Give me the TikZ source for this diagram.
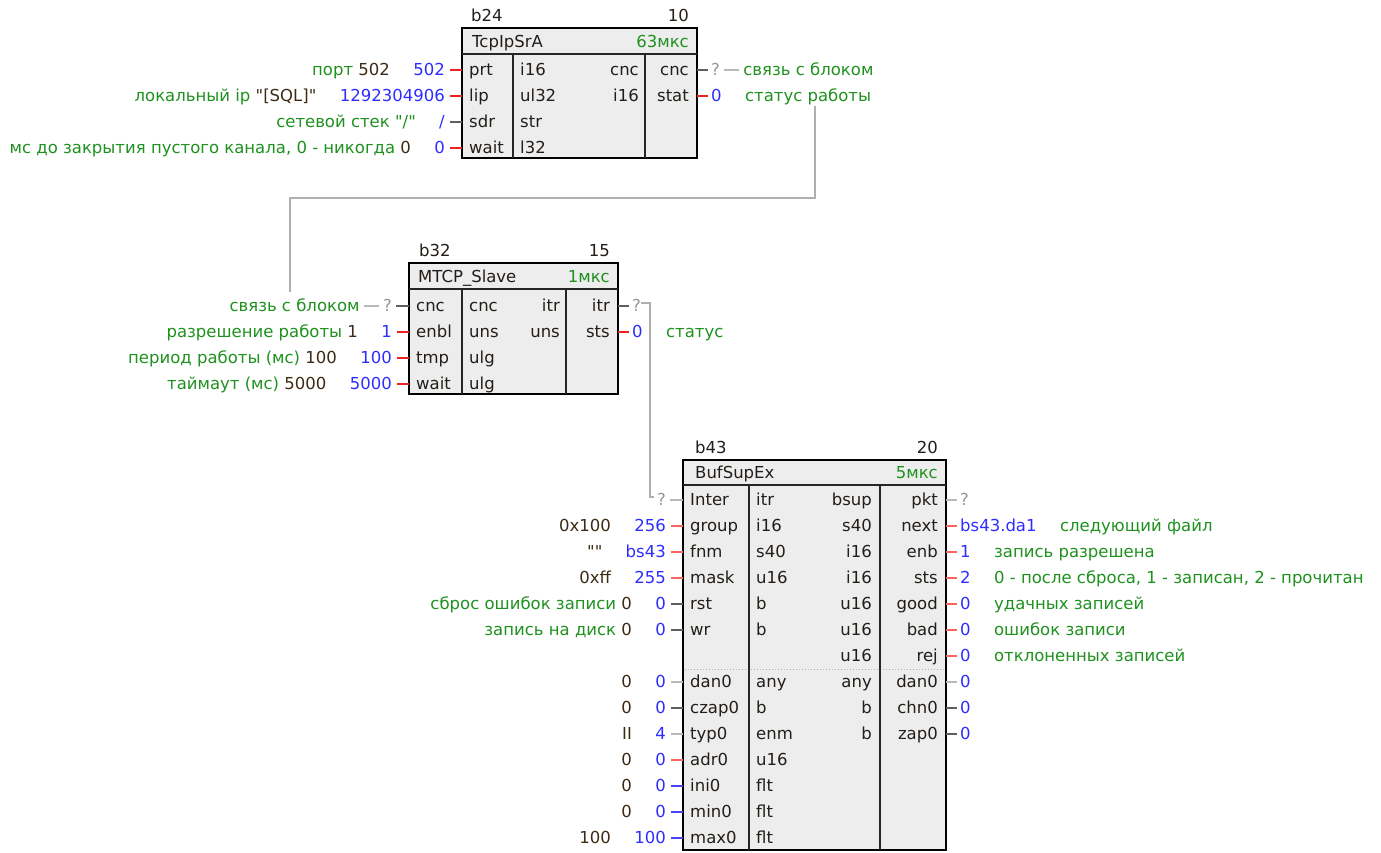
\documentclass[tikz,border=0pt]{standalone}
\usepackage{fontspec}
\setmainfont{DejaVu Sans}[Ligatures=TeXOff]
\usetikzlibrary{positioning}

\definecolor{blkfill}{RGB}{237,237,237}
\definecolor{cmtgreen}{RGB}{30,145,30}
\definecolor{valblue}{RGB}{45,45,255}
\definecolor{dfltdark}{RGB}{60,42,20}
\definecolor{pintext}{RGB}{35,30,25}
\definecolor{qgray}{RGB}{150,150,150}
\definecolor{linkgray}{RGB}{175,175,175}
\definecolor{stubred}{RGB}{235,35,35}
\definecolor{stubpink}{RGB}{250,100,100}
\definecolor{stubdark}{RGB}{95,95,95}
\definecolor{stublight}{RGB}{185,185,185}
\definecolor{stubblue}{RGB}{70,70,240}

\tikzset{
  txt/.style={inner sep=0pt, text height=13pt, text depth=3pt},
  pin/.style={txt, text=pintext},
  val/.style={txt, text=valblue},
  cmt/.style={txt, text=cmtgreen},
  dflt/.style={txt, text=dfltdark},
  qm/.style={txt, text=qgray},
  blk/.style={draw=black, fill=blkfill, line width=2.6pt},
  divline/.style={draw=black!85, line width=1.6pt},
  stub/.style={line width=1.6pt},
  link/.style={draw=linkgray, line width=1.6pt},
}

\begin{document}
\begin{tikzpicture}[x=1pt, y=-1pt, font=\fontsize{16.5}{19}\selectfont, node distance=24pt]
    \useasboundingbox (0,0) rectangle (1381,852);

    % block b24
    \draw[blk] (462,28) rectangle (697,158);
    \draw[divline] (462,54) -- (697,54) (513,54) -- (513,158) (645,54) -- (645,158);
    \node[pin, anchor=west] (b24id) at (471,16) {b24};
    \node[pin, anchor=east] (b24no) at (689,16) {10};
    \node[pin, anchor=west] (b24name) at (472,42) {TcpIpSrA};
    \node[cmt, anchor=east] (b24time) at (689,42) {63мкс};
    \node[pin, anchor=west] (b24prt) at (469,70) {prt};
    \node[pin, anchor=west] (b24lip) at (469,96) {lip};
    \node[pin, anchor=west] (b24sdr) at (469,122) {sdr};
    \node[pin, anchor=west] (b24wait) at (469,148) {wait};
    \node[pin, anchor=west] (b24t1) at (520,70) {i16};
    \node[pin, anchor=west] (b24t2) at (520,96) {ul32};
    \node[pin, anchor=west] (b24t3) at (520,122) {str};
    \node[pin, anchor=west] (b24t4) at (520,148) {l32};
    \node[pin, anchor=east] (b24o1) at (639,70) {cnc};
    \node[pin, anchor=east] (b24o2) at (639,96) {i16};
    \node[pin, anchor=east] (b24cnc) at (689,70) {cnc};
    \node[pin, anchor=east] (b24stat) at (689,96) {stat};

    \node[val, left=of b24prt] (b24prtv) {502};
    \node[cmt, left=23pt of b24prtv] (b24prtc) {порт \textcolor{dfltdark}{502}};
    \node[val, left=of b24lip] (b24lipv) {1292304906};
    \node[cmt, left=23pt of b24lipv] (b24lipc) {локальный ip \textcolor{dfltdark}{"[SQL]"}};
    \node[val, left=of b24sdr] (b24sdrv) {/};
    \node[cmt, left=23pt of b24sdrv] (b24sdrc) {сетевой стек "/"};
    \node[val, left=of b24wait] (b24waitv) {0};
    \node[cmt, left=23pt of b24waitv] (b24waitc) {мс до закрытия пустого канала, 0 - никогда \textcolor{dfltdark}{0}};
    \draw[stub, stubred] ([xshift=5pt]b24prtv.east) -- ([xshift=-7pt]b24prt.west);
    \draw[stub, stubred] ([xshift=5pt]b24lipv.east) -- ([xshift=-7pt]b24lip.west);
    \draw[stub, stubdark] ([xshift=5pt]b24sdrv.east) -- ([xshift=-7pt]b24sdr.west);
    \draw[stub, stubred] ([xshift=5pt]b24waitv.east) -- ([xshift=-7pt]b24wait.west);

    \node[qm, right=22pt of b24cnc] (b24cncv) {?};
    \node[cmt, right=23pt of b24cncv] (b24cncc) {связь с блоком};
    \node[val, right=22pt of b24stat] (b24statv) {0};
    \node[cmt, right=23pt of b24statv] (b24statc) {статус работы};
    \draw[stub, stubdark] ([xshift=8pt]b24cnc.east) -- ([xshift=-3pt]b24cncv.west);
    \draw[stub, stublight] ([xshift=4pt]b24cncv.east) -- ([xshift=-4pt]b24cncc.west);
    \draw[stub, stubred] ([xshift=8pt]b24stat.east) -- ([xshift=-3pt]b24statv.west);

    % block b32
    \draw[blk] (409,263) rectangle (618,394);
    \draw[divline] (409,289) -- (618,289) (462,289) -- (462,394) (566,289) -- (566,394);
    \node[pin, anchor=west] (b32id) at (419,251) {b32};
    \node[pin, anchor=east] (b32no) at (610,251) {15};
    \node[pin, anchor=west] (b32name) at (418,277) {MTCP\_Slave};
    \node[cmt, anchor=east] (b32time) at (610,277) {1мкс};
    \node[pin, anchor=west] (b32cnc) at (416,306) {cnc};
    \node[pin, anchor=west] (b32enbl) at (416,332) {enbl};
    \node[pin, anchor=west] (b32tmp) at (416,358) {tmp};
    \node[pin, anchor=west] (b32wait) at (416,384) {wait};
    \node[pin, anchor=west] (b32t1) at (469,306) {cnc};
    \node[pin, anchor=west] (b32t2) at (469,332) {uns};
    \node[pin, anchor=west] (b32t3) at (469,358) {ulg};
    \node[pin, anchor=west] (b32t4) at (469,384) {ulg};
    \node[pin, anchor=east] (b32o1) at (560,306) {itr};
    \node[pin, anchor=east] (b32o2) at (560,332) {uns};
    \node[pin, anchor=east] (b32itr) at (610,306) {itr};
    \node[pin, anchor=east] (b32sts) at (610,332) {sts};

    \node[qm, left=of b32cnc] (b32cncv) {?};
    \node[cmt, left=23pt of b32cncv] (b32cncc) {связь с блоком};
    \node[val, left=of b32enbl] (b32enblv) {1};
    \node[cmt, left=23pt of b32enblv] (b32enblc) {разрешение работы \textcolor{dfltdark}{1}};
    \node[val, left=of b32tmp] (b32tmpv) {100};
    \node[cmt, left=23pt of b32tmpv] (b32tmpc) {период работы (мс) \textcolor{dfltdark}{100}};
    \node[val, left=of b32wait] (b32waitv) {5000};
    \node[cmt, left=23pt of b32waitv] (b32waitc) {таймаут (мс) \textcolor{dfltdark}{5000}};
    \draw[stub, stubdark] ([xshift=4pt]b32cncv.east) -- ([xshift=-7pt]b32cnc.west);
    \draw[stub, stublight] ([xshift=4pt]b32cncc.east) -- ([xshift=-4pt]b32cncv.west);
    \draw[stub, stubred] ([xshift=5pt]b32enblv.east) -- ([xshift=-7pt]b32enbl.west);
    \draw[stub, stubred] ([xshift=5pt]b32tmpv.east) -- ([xshift=-7pt]b32tmp.west);
    \draw[stub, stubred] ([xshift=5pt]b32waitv.east) -- ([xshift=-7pt]b32wait.west);

    \node[qm, right=22pt of b32itr] (b32itrv) {?};
    \node[val, right=22pt of b32sts] (b32stsv) {0};
    \node[cmt, right=23pt of b32stsv] (b32stsc) {статус};
    \draw[stub, stubdark] ([xshift=8pt]b32itr.east) -- ([xshift=-3pt]b32itrv.west);
    \draw[stub, stubred] ([xshift=8pt]b32sts.east) -- ([xshift=-3pt]b32stsv.west);

    % block b43
    \draw[blk] (683,460) rectangle (946,850);
    \draw[dotted, linkgray, line width=1pt] (685,669) -- (944,669);
    \draw[divline] (683,485) -- (946,485) (749,485) -- (749,850) (880,485) -- (880,850);
    \node[pin, anchor=west] (b43id) at (695,448) {b43};
    \node[pin, anchor=east] (b43no) at (938,448) {20};
    \node[pin, anchor=west] (b43name) at (695,473) {BufSupEx};
    \node[cmt, anchor=east] (b43time) at (938,473) {5мкс};
    \node[pin, anchor=west] (b43inter) at (690,500) {Inter};
    \node[pin, anchor=west] (b43group) at (690,526) {group};
    \node[pin, anchor=west] (b43fnm) at (690,552) {fnm};
    \node[pin, anchor=west] (b43mask) at (690,578) {mask};
    \node[pin, anchor=west] (b43rst) at (690,604) {rst};
    \node[pin, anchor=west] (b43wr) at (690,630) {wr};
    \node[pin, anchor=west] (b43dan) at (690,682) {dan0};
    \node[pin, anchor=west] (b43czap) at (690,708) {czap0};
    \node[pin, anchor=west] (b43typ) at (690,734) {typ0};
    \node[pin, anchor=west] (b43adr) at (690,760) {adr0};
    \node[pin, anchor=west] (b43ini) at (690,786) {ini0};
    \node[pin, anchor=west] (b43min) at (690,812) {min0};
    \node[pin, anchor=west] (b43max) at (690,838) {max0};
    \node[pin, anchor=west] (b43t1) at (756,500) {itr};
    \node[pin, anchor=west] (b43t2) at (756,526) {i16};
    \node[pin, anchor=west] (b43t3) at (756,552) {s40};
    \node[pin, anchor=west] (b43t4) at (756,578) {u16};
    \node[pin, anchor=west] (b43t5) at (756,604) {b};
    \node[pin, anchor=west] (b43t6) at (756,630) {b};
    \node[pin, anchor=west] (b43t8) at (756,682) {any};
    \node[pin, anchor=west] (b43t9) at (756,708) {b};
    \node[pin, anchor=west] (b43t10) at (756,734) {enm};
    \node[pin, anchor=west] (b43t11) at (756,760) {u16};
    \node[pin, anchor=west] (b43t12) at (756,786) {flt};
    \node[pin, anchor=west] (b43t13) at (756,812) {flt};
    \node[pin, anchor=west] (b43t14) at (756,838) {flt};
    \node[pin, anchor=east] (b43o1) at (872,500) {bsup};
    \node[pin, anchor=east] (b43o2) at (872,526) {s40};
    \node[pin, anchor=east] (b43o3) at (872,552) {i16};
    \node[pin, anchor=east] (b43o4) at (872,578) {i16};
    \node[pin, anchor=east] (b43o5) at (872,604) {u16};
    \node[pin, anchor=east] (b43o6) at (872,630) {u16};
    \node[pin, anchor=east] (b43o7) at (872,656) {u16};
    \node[pin, anchor=east] (b43o8) at (872,682) {any};
    \node[pin, anchor=east] (b43o9) at (872,708) {b};
    \node[pin, anchor=east] (b43o10) at (872,734) {b};
    \node[pin, anchor=east] (b43pkt) at (938,500) {pkt};
    \node[pin, anchor=east] (b43next) at (938,526) {next};
    \node[pin, anchor=east] (b43enb) at (938,552) {enb};
    \node[pin, anchor=east] (b43sts) at (938,578) {sts};
    \node[pin, anchor=east] (b43good) at (938,604) {good};
    \node[pin, anchor=east] (b43bad) at (938,630) {bad};
    \node[pin, anchor=east] (b43rej) at (938,656) {rej};
    \node[pin, anchor=east] (b43odan) at (938,682) {dan0};
    \node[pin, anchor=east] (b43chn) at (938,708) {chn0};
    \node[pin, anchor=east] (b43zap) at (938,734) {zap0};

    \node[qm, left=of b43inter] (b43interv) {?};
    \node[val, left=of b43group] (b43groupv) {256};
    \node[dflt, left=23pt of b43groupv] (b43groupc) {0x100};
    \node[val, left=of b43fnm] (b43fnmv) {bs43};
    \node[dflt, left=23pt of b43fnmv] (b43fnmc) {""};
    \node[val, left=of b43mask] (b43maskv) {255};
    \node[dflt, left=23pt of b43maskv] (b43maskc) {0xff};
    \node[val, left=of b43rst] (b43rstv) {0};
    \node[cmt, left=23pt of b43rstv] (b43rstc) {сброс ошибок записи \textcolor{dfltdark}{0}};
    \node[val, left=of b43wr] (b43wrv) {0};
    \node[cmt, left=23pt of b43wrv] (b43wrc) {запись на диск \textcolor{dfltdark}{0}};
    \node[val, left=of b43dan] (b43danv) {0};
    \node[dflt, left=23pt of b43danv] (b43danc) {0};
    \node[val, left=of b43czap] (b43czapv) {0};
    \node[dflt, left=23pt of b43czapv] (b43czapc) {0};
    \node[val, left=of b43typ] (b43typv) {4};
    \node[dflt, left=23pt of b43typv] (b43typc) {II};
    \node[val, left=of b43adr] (b43adrv) {0};
    \node[dflt, left=23pt of b43adrv] (b43adrc) {0};
    \node[val, left=of b43ini] (b43iniv) {0};
    \node[dflt, left=23pt of b43iniv] (b43inic) {0};
    \node[val, left=of b43min] (b43minv) {0};
    \node[dflt, left=23pt of b43minv] (b43minc) {0};
    \node[val, left=of b43max] (b43maxv) {100};
    \node[dflt, left=23pt of b43maxv] (b43maxc) {100};
    \draw[stub, stublight] ([xshift=4pt]b43interv.east) -- ([xshift=-7pt]b43inter.west);
    \draw[stub, stubpink] ([xshift=5pt]b43groupv.east) -- ([xshift=-7pt]b43group.west);
    \draw[stub, stubpink] ([xshift=5pt]b43fnmv.east) -- ([xshift=-7pt]b43fnm.west);
    \draw[stub, stubpink] ([xshift=5pt]b43maskv.east) -- ([xshift=-7pt]b43mask.west);
    \draw[stub, stubdark] ([xshift=5pt]b43rstv.east) -- ([xshift=-7pt]b43rst.west);
    \draw[stub, stubdark] ([xshift=5pt]b43wrv.east) -- ([xshift=-7pt]b43wr.west);
    \draw[stub, stublight] ([xshift=5pt]b43danv.east) -- ([xshift=-7pt]b43dan.west);
    \draw[stub, stubdark] ([xshift=5pt]b43czapv.east) -- ([xshift=-7pt]b43czap.west);
    \draw[stub, stublight] ([xshift=5pt]b43typv.east) -- ([xshift=-7pt]b43typ.west);
    \draw[stub, stubpink] ([xshift=5pt]b43adrv.east) -- ([xshift=-7pt]b43adr.west);
    \draw[stub, stubblue] ([xshift=5pt]b43iniv.east) -- ([xshift=-7pt]b43ini.west);
    \draw[stub, stubblue] ([xshift=5pt]b43minv.east) -- ([xshift=-7pt]b43min.west);
    \draw[stub, stubblue] ([xshift=5pt]b43maxv.east) -- ([xshift=-7pt]b43max.west);

    \node[qm, right=22pt of b43pkt] (b43pktv) {?};
    \node[val, right=22pt of b43next] (b43nextv) {bs43.da1};
    \node[cmt, right=23pt of b43nextv] (b43nextc) {следующий файл};
    \node[val, right=22pt of b43enb] (b43enbv) {1};
    \node[cmt, right=23pt of b43enbv] (b43enbc) {запись разрешена};
    \node[val, right=22pt of b43sts] (b43stsv) {2};
    \node[cmt, right=23pt of b43stsv] (b43stsc) {0 - после сброса, 1 - записан, 2 - прочитан};
    \node[val, right=22pt of b43good] (b43goodv) {0};
    \node[cmt, right=23pt of b43goodv] (b43goodc) {удачных записей};
    \node[val, right=22pt of b43bad] (b43badv) {0};
    \node[cmt, right=23pt of b43badv] (b43badc) {ошибок записи};
    \node[val, right=22pt of b43rej] (b43rejv) {0};
    \node[cmt, right=23pt of b43rejv] (b43rejc) {отклоненных записей};
    \node[val, right=22pt of b43odan] (b43odanv) {0};
    \node[val, right=22pt of b43chn] (b43chnv) {0};
    \node[val, right=22pt of b43zap] (b43zapv) {0};
    \draw[stub, stublight] ([xshift=8pt]b43pkt.east) -- ([xshift=-3pt]b43pktv.west);
    \draw[stub, stubpink] ([xshift=8pt]b43next.east) -- ([xshift=-3pt]b43nextv.west);
    \draw[stub, stubpink] ([xshift=8pt]b43enb.east) -- ([xshift=-3pt]b43enbv.west);
    \draw[stub, stubpink] ([xshift=8pt]b43sts.east) -- ([xshift=-3pt]b43stsv.west);
    \draw[stub, stubpink] ([xshift=8pt]b43good.east) -- ([xshift=-3pt]b43goodv.west);
    \draw[stub, stubpink] ([xshift=8pt]b43bad.east) -- ([xshift=-3pt]b43badv.west);
    \draw[stub, stubpink] ([xshift=8pt]b43rej.east) -- ([xshift=-3pt]b43rejv.west);
    \draw[stub, stublight] ([xshift=8pt]b43odan.east) -- ([xshift=-3pt]b43odanv.west);
    \draw[stub, stubdark] ([xshift=8pt]b43chn.east) -- ([xshift=-3pt]b43chnv.west);
    \draw[stub, stubdark] ([xshift=8pt]b43zap.east) -- ([xshift=-3pt]b43zapv.west);

    % links between blocks
    \coordinate (lnkA) at (815,106);
    \coordinate (lnkB) at (290,292);
    \draw[link] (lnkA) -- ++(0,92) -| (lnkB);
    \draw[link] ([yshift=3pt]b32itrv.east) -- ++(9,0) |- ([xshift=-3pt,yshift=3pt]b43interv.west);
\end{tikzpicture}
\end{document}
